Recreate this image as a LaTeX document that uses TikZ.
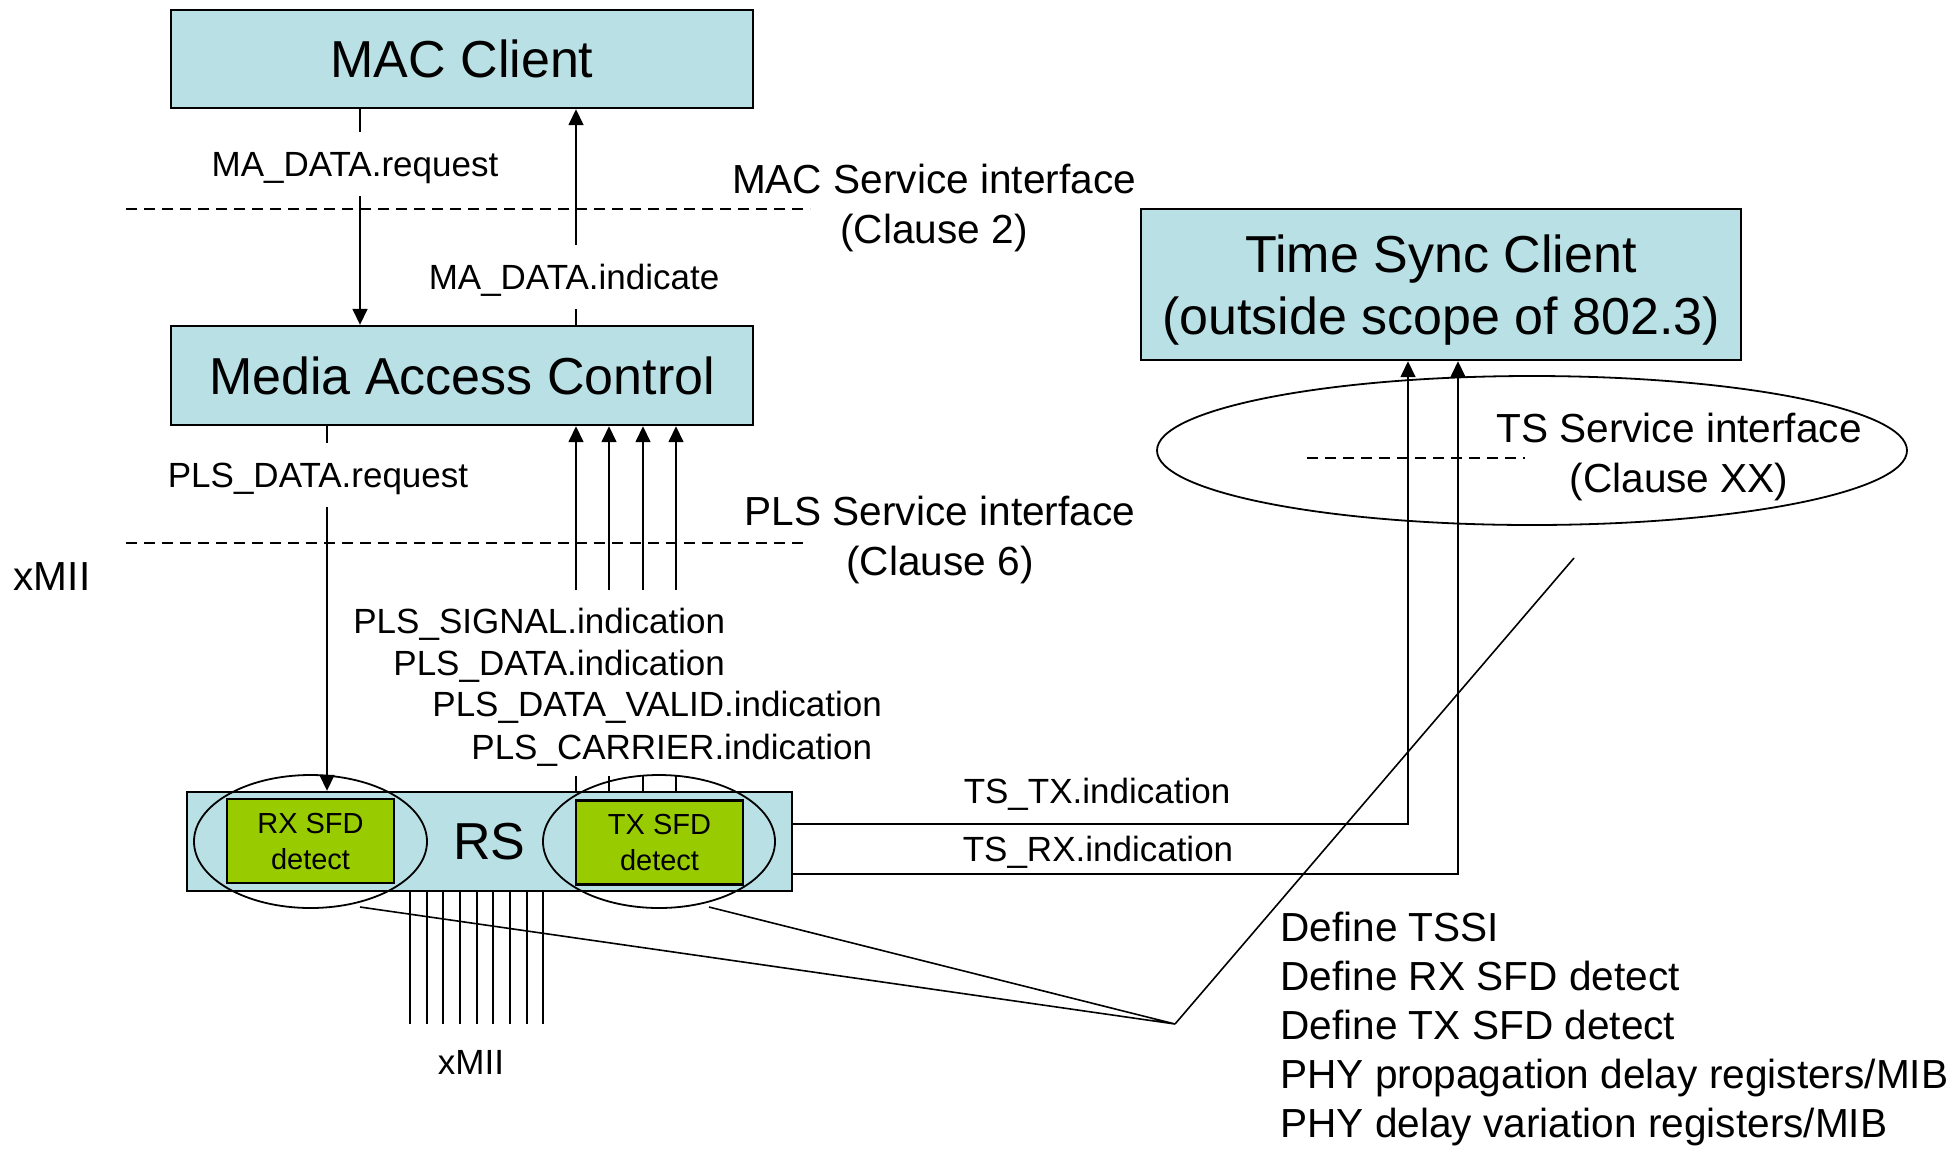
\documentclass[tikz,border=0pt]{standalone}
\usepackage{fontspec}
\setmainfont{Liberation Sans}
\usetikzlibrary{arrows.meta,shapes.geometric}
\definecolor{layerblue}{RGB}{185,224,228}
\definecolor{sfdgreen}{RGB}{153,204,0}
\tikzset{
  layer/.style={draw, line width=1.2pt, fill=layerblue, inner sep=0pt,
    font=\fontsize{26}{31}\selectfont, align=center},
  sfdbox/.style={draw, line width=1.3pt, fill=sfdgreen, inner sep=0pt,
    minimum width=83.5pt, minimum height=42pt, align=center, text depth=0pt,
    font=\fontsize{14.5}{18}\selectfont},
  ring/.style={draw, ellipse, line width=0.9pt, inner sep=0pt},
  sig/.style={line width=0.8pt, -{Triangle[length=8pt,width=7.5pt]}},
  wire/.style={line width=0.8pt},
  iface/.style={dash pattern=on 5.5pt off 3.5pt, line width=0.6pt},
  siglabel/.style={inner sep=0pt, minimum height=32pt, text depth=0pt,
    font=\fontsize{17.5}{21}\selectfont},
  ifacelabel/.style={inner sep=0pt, align=center, text depth=0pt,
    font=\fontsize{20.3}{25}\selectfont}
}
\begin{document}
\begin{tikzpicture}[x=0.5pt, y=-0.5pt]
  \useasboundingbox (0,0) rectangle (1954,1152);

  \node[layer, minimum width=291pt, minimum height=49pt] (macclient) at (462,59) {MAC Client};
  \node[layer, minimum width=291pt, minimum height=49.5pt] (mac) at (462,375.5) {Media Access Control};
  \node[layer, minimum width=300pt, minimum height=75.5pt, text depth=0pt] (tsclient) at (1441,284.5) {Time Sync Client\\(outside scope of 802.3)};
  \node[layer, minimum width=302.5pt, minimum height=49.5pt] (rs) at (489.5,841.5) {RS};
  \node[sfdbox] (rxsfd) at (310.5,841) {RX SFD\\detect};
  \node[sfdbox] (txsfd) at (659.5,842.5) {TX SFD\\detect};
  \node[ring, minimum width=116.5pt, minimum height=66.5pt] (rxring) at (310.5,841.5) {};
  \node[ring, minimum width=116pt, minimum height=66.5pt] (txring) at (659,841.5) {};
  \node[ring, minimum width=375pt, minimum height=74.5pt] (tsring) at (1532,450.5) {};

  % service interfaces
  \draw[iface] (126,209) -- (810,209);
  \draw[iface] (126,543) -- (809,543);
  \draw[iface] (1307,458) -- (1525,458);
  \node[ifacelabel] (macif) at (934,204) {MAC Service interface\\(Clause 2)};
  \node[ifacelabel] (plsif) at (940,536) {PLS Service interface\\(Clause 6)};
  \node[ifacelabel] (tsif) at (1679,453) {TS Service interface\\(Clause XX)};
  \node[ifacelabel] (miiside) at (52,577) {xMII};

  % primitives
  \node[siglabel] (mareq) at (355,164) {MA\_DATA.request};
  \node[siglabel] (maind) at (574,277) {MA\_DATA.indicate};
  \node[siglabel] (plsreq) at (318,475) {PLS\_DATA.request};
  \node[siglabel, anchor=west] (plssig) at (353,621) {PLS\_SIGNAL.indication};
  \node[siglabel, anchor=west] (plsdata) at (393,663) {PLS\_DATA.indication};
  \node[siglabel, anchor=west] (plsvalid) at (432,704) {PLS\_DATA\_VALID.indication};
  \node[siglabel, anchor=west] (plscarrier) at (471,747) {PLS\_CARRIER.indication};
  \node[siglabel] (tstx) at (1097,791) {TS\_TX.indication};
  \node[siglabel] (tsrx) at (1098,849) {TS\_RX.indication};
  \node[siglabel] (miilabel) at (471,1062) {xMII};

  \coordinate (reqx) at (360,0);
  \coordinate (indx) at (576,0);
  \coordinate (plsx) at (327,0);
  \draw[wire] (macclient.south -| reqx) -- (mareq.north -| reqx);
  \draw[sig] (mareq.south -| reqx) -- (mac.north -| reqx);
  \draw[wire] (mac.north -| indx) -- (maind.south -| indx);
  \draw[sig] (maind.north -| indx) -- (macclient.south -| indx);
  \draw[wire] (mac.south -| plsx) -- (plsreq.north -| plsx);
  \draw[sig] (plsreq.south -| plsx) -- (rs.north -| plsx);
  \foreach \x in {576,609,643,676}{
    \coordinate (up) at (\x,590);
    \coordinate (dn) at (\x,776);
    \draw[sig] (up) -- (mac.south -| up);
    \draw[wire] (dn) -- (rs.north -| dn);
  }
  \draw[sig] ([yshift=8.75pt]rs.east) -| ([xshift=-16.5pt]tsclient.south);
  \draw[sig] ([yshift=-16.25pt]rs.east) -| ([xshift=8.5pt]tsclient.south);
  \foreach \x in {410,427,443,460,477,493,510,527,543}{
    \coordinate (pin) at (\x,1024);
    \draw[wire] (rs.south -| pin) -- (pin);
  }

  % callout
  \coordinate (apex) at (1175,1024);
  \coordinate (rxtip) at (360,907);
  \coordinate (txtip) at (709,907);
  \coordinate (tstip) at (1574,558);
  \draw[wire] (rxtip) -- (apex) -- (txtip);
  \draw[wire] (apex) -- (tstip);
  \node[anchor=west, inner sep=0pt, align=left, font=\fontsize{20.3}{24.5}\selectfont] (todo) at (1280,1029)
    {Define TSSI\\Define RX SFD detect\\Define TX SFD detect\\PHY propagation delay registers/MIB\\PHY delay variation registers/MIB};
\end{tikzpicture}
\end{document}
